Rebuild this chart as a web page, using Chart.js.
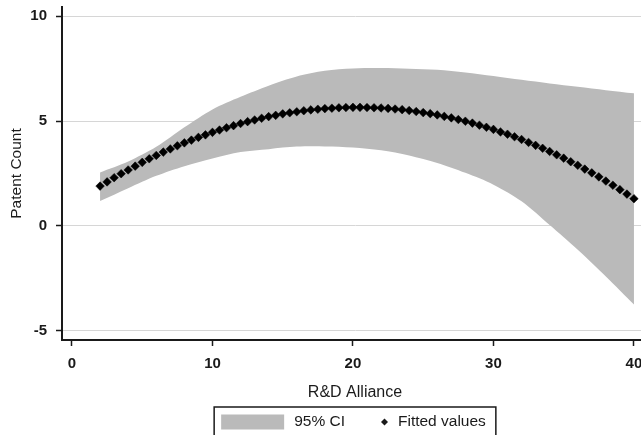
<!DOCTYPE html>
<html lang="en">
<head>
  <meta charset="UTF-8">
  <title>Patent Count vs R&amp;D Alliance</title>
  <script src="https://cdn.jsdelivr.net/npm/chart.js@4.4.1/dist/chart.umd.min.js"></script>
  <style>
    html, body {
      margin: 0;
      padding: 0;
      overflow: hidden;
      background-color: #ffffff;
    }

    /* the original plot runs a few pixels past the right edge of the picture */
    #wrap {
      width: 641px;
      height: 435px;
      overflow: hidden;
    }
  </style>
</head>
<body>
  <div id="wrap">
    <canvas id="chart" width="648" height="435"></canvas>
  </div>

  <script>
    // band of the 95% CI, every 2 units
    const ciX = [2, 4, 6, 8, 10, 12, 14, 16, 18, 20, 22, 24, 26, 28, 30, 32, 34, 36, 38, 40];
    const ciUpper = [2.55, 3.07, 3.77, 4.70, 5.55, 6.15, 6.68, 7.12, 7.39, 7.50, 7.52, 7.49, 7.44, 7.31, 7.14, 6.96, 6.79, 6.63, 6.47, 6.32];
    const ciLower = [1.19, 1.80, 2.39, 2.85, 3.22, 3.52, 3.66, 3.78, 3.79, 3.74, 3.61, 3.36, 3.00, 2.53, 1.97, 1.18, 0.05, -1.13, -2.40, -3.74];

    // fitted values (diamonds), every 0.5
    const fitX = [2, 2.5, 3, 3.5, 4, 4.5, 5, 5.5, 6, 6.5, 7, 7.5, 8, 8.5, 9, 9.5, 10, 10.5, 11, 11.5,
      12, 12.5, 13, 13.5, 14, 14.5, 15, 15.5, 16, 16.5, 17, 17.5, 18, 18.5, 19, 19.5, 20, 20.5, 21, 21.5,
      22, 22.5, 23, 23.5, 24, 24.5, 25, 25.5, 26, 26.5, 27, 27.5, 28, 28.5, 29, 29.5, 30, 30.5, 31, 31.5,
      32, 32.5, 33, 33.5, 34, 34.5, 35, 35.5, 36, 36.5, 37, 37.5, 38, 38.5, 39, 39.5, 40];
    const fitY = [1.90, 2.10, 2.30, 2.49, 2.67, 2.85, 3.03, 3.20, 3.36, 3.52, 3.67, 3.82, 3.96, 4.09, 4.22, 4.34, 4.46, 4.57, 4.68, 4.78,
      4.88, 4.97, 5.05, 5.13, 5.21, 5.27, 5.34, 5.39, 5.44, 5.49, 5.53, 5.56, 5.59, 5.61, 5.63, 5.64, 5.65, 5.65, 5.64, 5.63,
      5.62, 5.60, 5.57, 5.54, 5.50, 5.45, 5.40, 5.35, 5.29, 5.22, 5.15, 5.07, 4.99, 4.90, 4.80, 4.70, 4.60, 4.48, 4.37, 4.25,
      4.12, 3.98, 3.84, 3.70, 3.55, 3.39, 3.23, 3.06, 2.89, 2.71, 2.53, 2.34, 2.14, 1.94, 1.73, 1.52, 1.30];

    const xTicks = [0, 10, 20, 30, 40];
    const yTicks = [-5, 0, 5, 10];

    const FONT = '"Liberation Sans", Arial, sans-serif';
    const GREY = '#bababa';
    const INK = '#1a1a1a';

    function pairs(xs, ys) {
      return xs.map((x, i) => ({ x: x, y: ys[i] }));
    }

    // legend in a box under the axis title, like the original
    const boxLegend = {
      id: 'boxLegend',
      afterDraw(chart) {
        const ctx = chart.ctx;
        const area = chart.chartArea;
        const t1 = chart.data.datasets[1].label;
        const t2 = chart.data.datasets[0].label;
        ctx.save();
        ctx.font = '15.5px ' + FONT;
        const w1 = ctx.measureText(t1).width;
        const w2 = ctx.measureText(t2).width;
        const total = 7 + 63 + 10 + w1 + 36 + 7 + 10 + w2 + 10;
        let x = (area.left + area.right) / 2 - total / 2;
        const top = 407;
        const mid = 422;

        ctx.strokeStyle = INK;
        ctx.lineWidth = 1.5;
        ctx.strokeRect(x, top, total, 32);

        x += 7;
        ctx.fillStyle = GREY;
        ctx.fillRect(x, 414.5, 63, 15);
        x += 63 + 10;

        ctx.fillStyle = INK;
        ctx.textBaseline = 'middle';
        ctx.textAlign = 'left';
        ctx.fillText(t1, x, mid);
        x += w1 + 36;

        ctx.beginPath();
        ctx.moveTo(x, mid);
        ctx.lineTo(x + 3.5, mid - 3.5);
        ctx.lineTo(x + 7, mid);
        ctx.lineTo(x + 3.5, mid + 3.5);
        ctx.closePath();
        ctx.fill();
        x += 7 + 10;

        ctx.fillText(t2, x, mid);
        ctx.restore();
      }
    };

    const ctx = document.getElementById('chart').getContext('2d');
    new Chart(ctx, {
      type: 'scatter',
      data: {
        datasets: [
          {
            label: 'Fitted values',
            data: pairs(fitX, fitY),
            showLine: false,
            pointStyle: 'rectRot',
            pointRadius: 4.3,
            pointBorderWidth: 0.5,
            backgroundColor: '#000000',
            borderColor: '#000000'
          },
          {
            label: '95% CI',
            data: pairs(ciX, ciUpper),
            showLine: true,
            fill: '+1',
            tension: 0.3,
            borderWidth: 0,
            pointRadius: 0,
            borderColor: GREY,
            backgroundColor: GREY
          },
          {
            label: '95% CI lower',
            data: pairs(ciX, ciLower),
            showLine: true,
            fill: false,
            tension: 0.3,
            borderWidth: 0,
            pointRadius: 0,
            borderColor: GREY,
            backgroundColor: GREY
          }
        ]
      },
      options: {
        responsive: false,
        animation: false,
        layout: {
          autoPadding: false,
          padding: { top: 7, left: 0, right: 0, bottom: 33 }
        },
        plugins: {
          legend: { display: false },
          tooltip: { enabled: false }
        },
        scales: {
          x: {
            type: 'linear',
            min: -0.71,
            max: 41.0,
            afterBuildTicks: (scale) => { scale.ticks = xTicks.map(v => ({ value: v })); },
            afterFit: (scale) => {
              scale.height = 62;
              scale.paddingLeft = 0;
              scale.paddingRight = 0;
            },
            grid: {
              drawOnChartArea: false,
              tickLength: 6,
              tickColor: INK,
              tickWidth: 1.5
            },
            border: { color: INK, width: 2 },
            ticks: {
              padding: 9,
              maxRotation: 0,
              color: INK,
              font: { family: FONT, size: 15, weight: 'bold' }
            },
            title: {
              display: true,
              text: 'R&D Alliance',
              color: INK,
              padding: 0,
              font: { family: FONT, size: 16 }
            }
          },
          y: {
            type: 'linear',
            min: -5.43,
            max: 10.43,
            afterBuildTicks: (scale) => { scale.ticks = yTicks.map(v => ({ value: v })); },
            afterFit: (scale) => {
              scale.width = 62;
              scale.paddingTop = 0;
              scale.paddingBottom = 0;
            },
            grid: {
              color: '#d6d6d6',
              lineWidth: 1,
              tickLength: 6,
              tickColor: INK,
              tickWidth: 1.5
            },
            border: { color: INK, width: 2 },
            ticks: {
              padding: 9,
              color: INK,
              font: { family: FONT, size: 15, weight: 'bold' }
            },
            title: {
              display: true,
              text: 'Patent Count',
              color: INK,
              padding: { top: 7, bottom: 0 },
              font: { family: FONT, size: 15.5 }
            }
          }
        }
      },
      plugins: [boxLegend]
    });
  </script>
</body>
</html>
